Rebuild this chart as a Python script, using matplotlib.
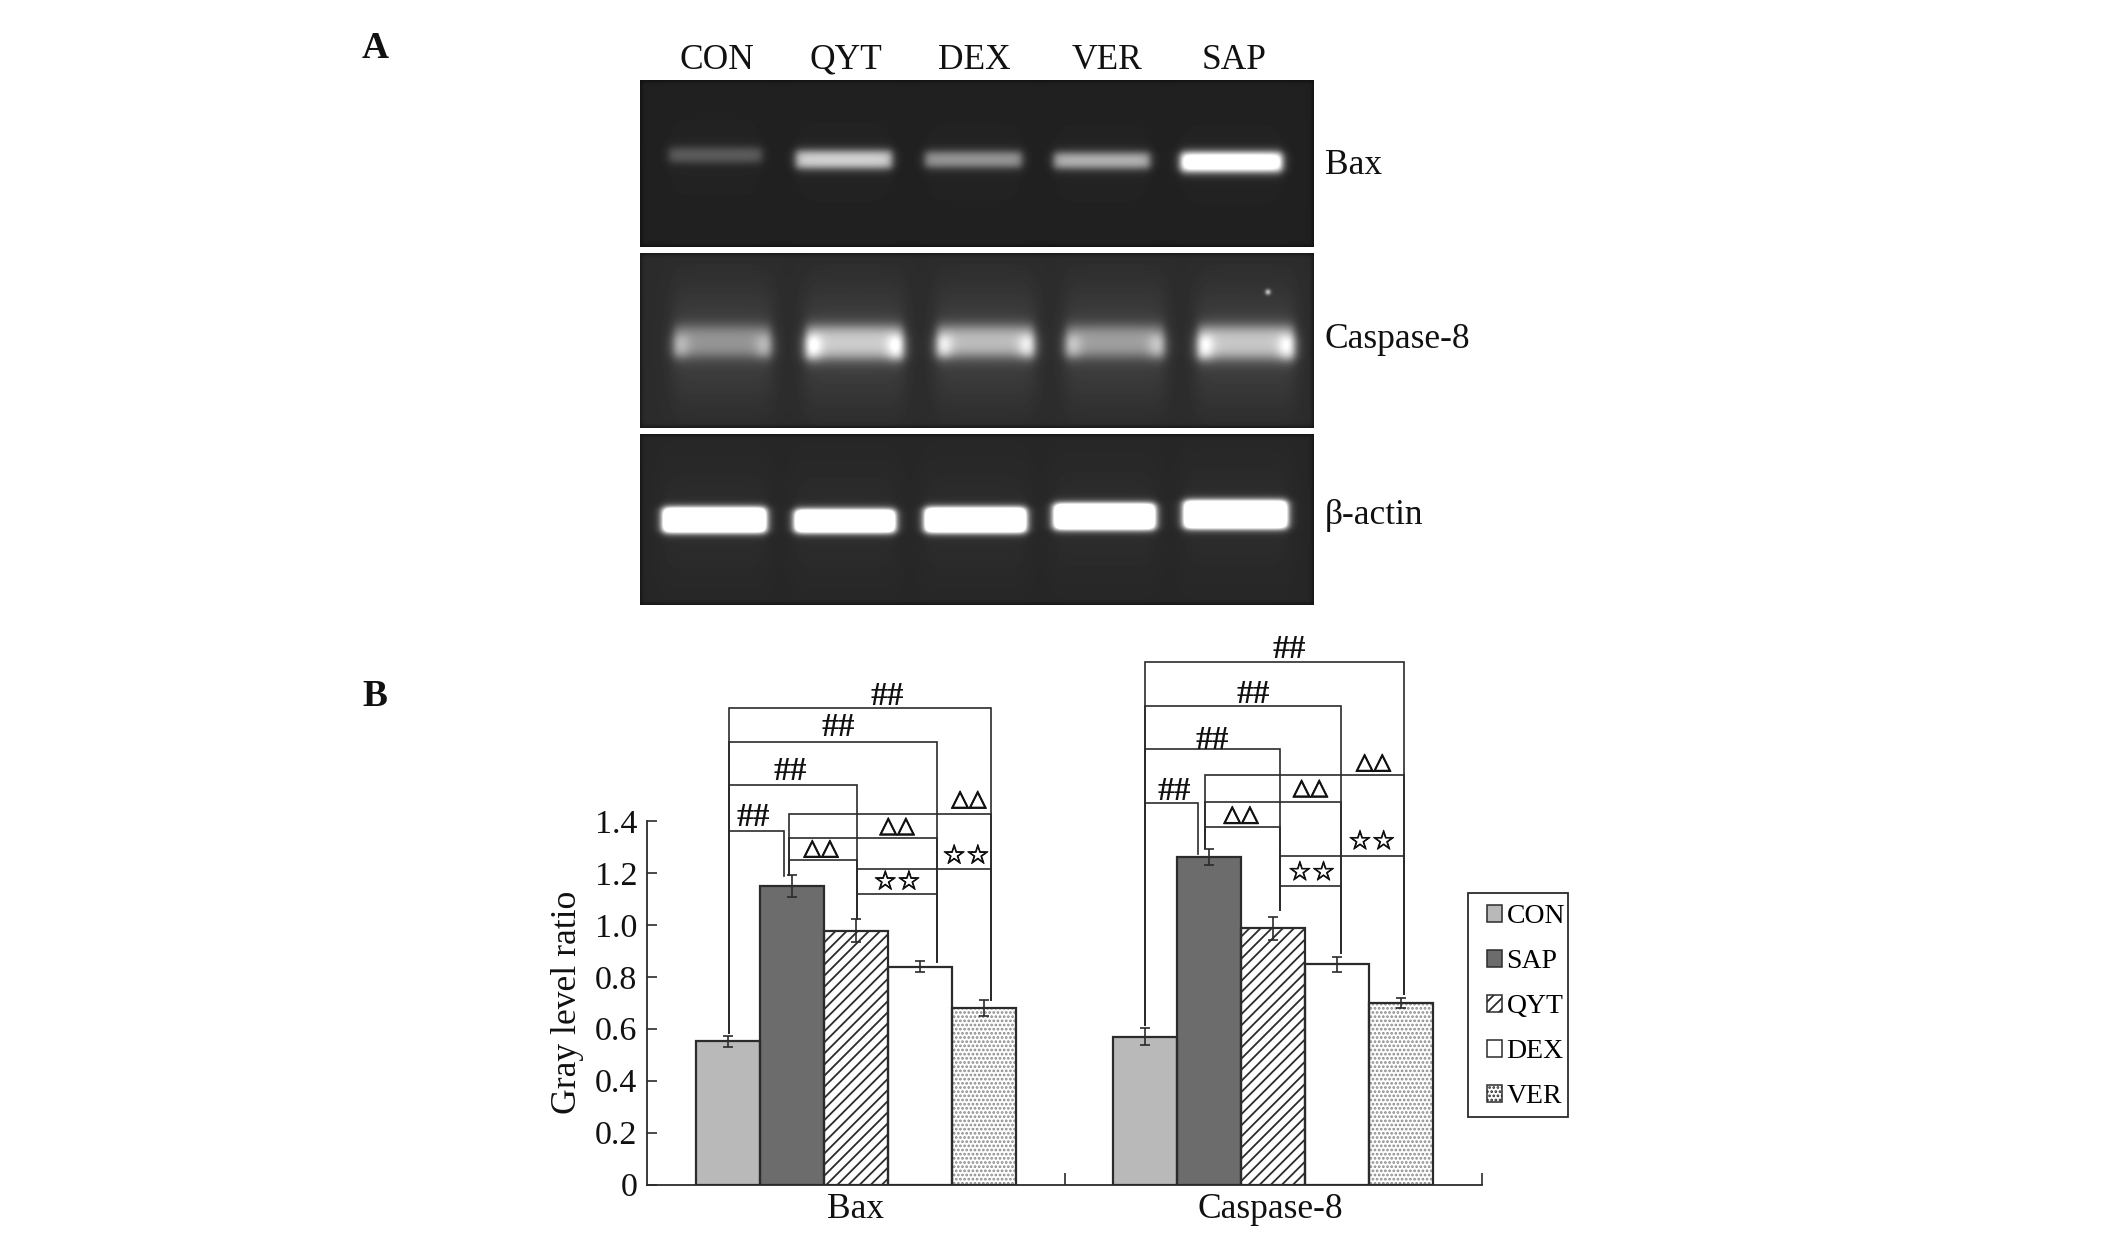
import numpy as np
import matplotlib
matplotlib.use("Agg")
import matplotlib.pyplot as plt
import matplotlib.patheffects as pe
from matplotlib.patches import Rectangle

plt.rcParams['font.family'] = ['Liberation Serif', 'DejaVu Sans']
plt.rcParams['hatch.linewidth'] = 1.3

W, H = 2126, 1240
INK = '#2b2b2b'

# ---------- chart values ----------
targets = ['Bax', 'Caspase-8']
groups = ['CON', 'SAP', 'QYT', 'DEX', 'VER']
bar_colors = ['#b9b9b9', '#6c6c6c', 'white', 'white', 'white']
bar_hatches = [None, None, '///', None, '....']
hatch_colors = [INK, INK, INK, INK, '#8a8a8a']
bax_vals = [0.551, 1.149, 0.977, 0.839, 0.680]
bax_errs = [0.021, 0.041, 0.044, 0.022, 0.031]
casp_vals = [0.569, 1.260, 0.986, 0.848, 0.699]
casp_errs = [0.032, 0.031, 0.046, 0.030, 0.021]
y_ticks = [0, 0.2, 0.4, 0.6, 0.8, 1.0, 1.2, 1.4]
y_tick_labels = ['0', '0.2', '0.4', '0.6', '0.8', '1.0', '1.2', '1.4']

# significance brackets: x_left, x_right, level, foot_left, foot_right (x relative to group)
bax_brackets = [
    (-0.304, -0.172, 1.362, 0.583, 1.187), (-0.304, 0.004, 1.539, 0.583, 1.024),
    (-0.304, 0.195, 1.705, 0.583, 0.857), (-0.304, 0.324, 1.836, 0.583, 0.712),
    (-0.160, 0.004, 1.251, 1.192, 1.024), (-0.160, 0.195, 1.335, 1.192, 0.857),
    (-0.160, 0.324, 1.426, 1.192, 0.712),
    (0.004, 0.195, 1.117, 1.024, 0.857), (0.004, 0.324, 1.213, 1.024, 0.712),
]
casp_brackets = [
    (-0.306, -0.180, 1.469, 0.613, 1.272), (-0.306, 0.016, 1.677, 0.613, 1.058),
    (-0.306, 0.162, 1.842, 0.613, 0.890), (-0.306, 0.313, 2.012, 0.613, 0.735),
    (-0.163, 0.016, 1.376, 1.294, 1.058), (-0.163, 0.162, 1.473, 1.294, 0.890),
    (-0.163, 0.313, 1.575, 1.294, 0.735),
    (0.016, 0.162, 1.149, 1.058, 0.890), (0.016, 0.313, 1.265, 1.058, 0.735),
]
# significance labels: text, x relative to group, y
bax_marks = [
    ('##', -0.246, 1.413), ('##', -0.156, 1.591), ('##', -0.043, 1.758), ('##', 0.075, 1.880),
    ('△△', -0.083, 1.295), ('△△', 0.099, 1.381), ('△△', 0.271, 1.484),
    ('☆☆', 0.099, 1.163), ('☆☆', 0.264, 1.263),
]
casp_marks = [
    ('##', -0.236, 1.512), ('##', -0.147, 1.709), ('##', -0.047, 1.888), ('##', 0.039, 2.058),
    ('△△', -0.077, 1.425), ('△△', 0.089, 1.527), ('△△', 0.240, 1.626),
    ('☆☆', 0.092, 1.199), ('☆☆', 0.236, 1.318),
]

# ---------- gel values ----------
lane_labels = ['CON', 'QYT', 'DEX', 'VER', 'SAP']
lane_label_x = [717, 846, 974, 1107, 1234]
gel_names = ['Bax', 'Caspase-8', 'β-actin']
gel_boxes = [(640, 80, 1314, 247), (640, 253, 1314, 428), (640, 434, 1314, 605)]
gel_label_y = [165, 339, 515]
gel_background = [0.125, 0.17, 0.15]
# each band: left, right, top, bottom (px), brightness
bax_bands = [(667, 764, 147, 163, 0.24), (794, 894, 150, 169, 0.72), (923, 1024, 151, 168, 0.48),
             (1052, 1152, 152, 169, 0.60), (1179, 1284, 152, 172, 1.20)]
casp_bands = [(672, 773, 326, 357, 0.36), (804, 905, 326, 359, 0.58), (935, 1036, 326, 357, 0.52),
              (1064, 1166, 326, 357, 0.40), (1196, 1296, 326, 359, 0.56)]
actin_bands = [(661, 768, 507, 533, 1.6), (793, 897, 509, 533, 1.6), (923, 1028, 507, 533, 1.6),
               (1052, 1157, 503, 530, 1.6), (1182, 1289, 500, 529, 1.6)]
gel_bands = [bax_bands, casp_bands, actin_bands]
gel_glow = [0.05, 0.30, 0.10]
gel_soft = [2.5, 4.0, 2.0]

fig = plt.figure(figsize=(W / 100, H / 100), dpi=100, facecolor='white')


def add_axes_px(x0, y0, x1, y1):
    return fig.add_axes([x0 / W, 1 - y1 / H, (x1 - x0) / W, (y1 - y0) / H])


def fig_text(x, y, s, **kw):
    fig.text(x / W, 1 - y / H, s, **kw)


def soft_box(v, a, b, s):
    return 1 / (1 + np.exp((a - v) / s)) * 1 / (1 + np.exp((v - b) / s))


# ---------- panel A ----------
for box, bands, bg, glow, soft, name, ly in zip(gel_boxes, gel_bands, gel_background, gel_glow,
                                                gel_soft, gel_names, gel_label_y):
    x0, y0, x1, y1 = box
    gel_ax = add_axes_px(x0, y0, x1, y1)
    xx, yy = np.meshgrid(np.arange(x0, x1) + 0.5, np.arange(y0, y1) + 0.5)
    img = np.full(xx.shape, float(bg))
    for a, b, t, u, level in bands:
        img += glow * 0.25 * soft_box(xx, a, b, 5) * soft_box(yy, t - 35, u + 40, 14)
        img += level * soft_box(xx, a + 2, b - 2, 2.5) * soft_box(yy, t + 1, u - 1, soft)
        if name == 'Caspase-8':
            # ends of these bands are brighter than their centres
            img += 0.5 * level * (np.exp(-((xx - a - 8) / 10) ** 2) + np.exp(-((xx - b + 8) / 10) ** 2)) \
                * soft_box(yy, t + 10, u, 3)
    edge = soft_box(xx, x0 + 2, x1 - 2, 1) * soft_box(yy, y0 + 2, y1 - 2, 1)
    img = img * (0.55 + 0.45 * edge)
    if name == 'Caspase-8':
        img += 0.55 * np.exp(-((xx - 1268) ** 2 + (yy - 292) ** 2) / 8)
    gel_ax.imshow(np.clip(img, 0, 1), cmap='gray', vmin=0, vmax=1, aspect='auto',
                  interpolation='bilinear')
    gel_ax.axis('off')
    fig_text(1325, ly, name, fontsize=25.5, ha='left', va='center', color='#111111')

for s, x in zip(lane_labels, lane_label_x):
    fig_text(x, 60.5, s, fontsize=25.5, ha='center', va='center', color='#111111')

fig_text(375, 48, 'A', fontsize=27, fontweight='bold', ha='center', va='center', color='#111111')
fig_text(375, 696, 'B', fontsize=27, fontweight='bold', ha='center', va='center', color='#111111')

# ---------- panel B ----------
ax = add_axes_px(647, 820.9, 1482, 1184.6)
ax.set_xlim(-0.5, 1.5)
ax.set_ylim(0, 1.4)
ax.patch.set_alpha(0)

width = 0.1535
offsets = (np.arange(len(groups)) - 2) * width
series_by_target = [(bax_vals, bax_errs), (casp_vals, casp_errs)]
for g, (vals, errs) in enumerate(series_by_target):
    for i, name in enumerate(groups):
        ax.bar(g + offsets[i], vals[i], width, color=bar_colors[i], edgecolor=hatch_colors[i],
               linewidth=0, hatch=bar_hatches[i], label=name if g == 0 else None, zorder=2)
        ax.bar(g + offsets[i], vals[i], width, fill=False, edgecolor=INK, linewidth=1.6, zorder=2.5)
        ax.errorbar(g + offsets[i], vals[i], yerr=errs[i], color=INK, elinewidth=1.2, capsize=3.6,
                    capthick=1.2, zorder=3, clip_on=False)

for g, (brackets, marks) in enumerate([(bax_brackets, bax_marks), (casp_brackets, casp_marks)]):
    for xl, xr, lev, fl, fr in brackets:
        ax.plot([g + xl, g + xl, g + xr, g + xr], [fl, lev, lev, fr], color=INK, lw=1.2,
                clip_on=False, zorder=4, solid_joinstyle='miter')
    for s, x, y in marks:
        if s == '##':
            ax.text(g + x, y, s, fontsize=24, fontweight='bold', ha='center', va='center',
                    color='#111111', clip_on=False, zorder=5)
        else:
            t = ax.text(g + x, y, s, fontsize=16.5 if s == '△△' else 19, family='DejaVu Sans',
                        ha='center', va='center', color='#111111', clip_on=False, zorder=5)
            t.set_path_effects([pe.withStroke(linewidth=0.7, foreground='#111111')])

for side in ('top', 'right'):
    ax.spines[side].set_visible(False)
for side in ('left', 'bottom'):
    ax.spines[side].set_linewidth(1.3)
    ax.spines[side].set_color(INK)

ax.set_yticks(y_ticks)
ax.set_yticklabels(y_tick_labels, fontsize=24.5, color='#111111')
ax.tick_params(axis='y', direction='in', length=7, width=1.2, color=INK, pad=7)
ax.set_xticks([0, 0.9935])
ax.set_xticklabels(targets, fontsize=25.5, color='#111111')
ax.set_xticks([0.5, 1.5], minor=True)
ax.tick_params(axis='x', which='major', length=0, pad=6)
ax.tick_params(axis='x', which='minor', direction='in', length=9, width=1.2, color=INK)
ax.set_ylabel('Gray level ratio', fontsize=25.7, color='#111111', labelpad=8)

# legend: frame drawn on its own so it can follow the reference's uneven padding
fig.add_artist(Rectangle((1468 / W, 1 - 1117 / H), 100 / W, 224 / H, transform=fig.transFigure,
                         facecolor='white', edgecolor=INK, linewidth=1.3, zorder=-1))
handles, labels = ax.get_legend_handles_labels()
leg = ax.legend(handles, labels, loc='upper left', bbox_to_anchor=(1476 / W, 1 - 893 / H),
                bbox_transform=fig.transFigure, frameon=False, fontsize=20, ncol=1,
                borderaxespad=0, borderpad=0.4, labelspacing=0.72, handlelength=0.55,
                handleheight=0.55, handletextpad=0.15)
for patch in leg.get_patches():
    patch.set_linewidth(1.1)
    patch.set_edgecolor(INK)
leg.set_zorder(6)

fig.savefig('out.png', dpi=100, facecolor='white')
